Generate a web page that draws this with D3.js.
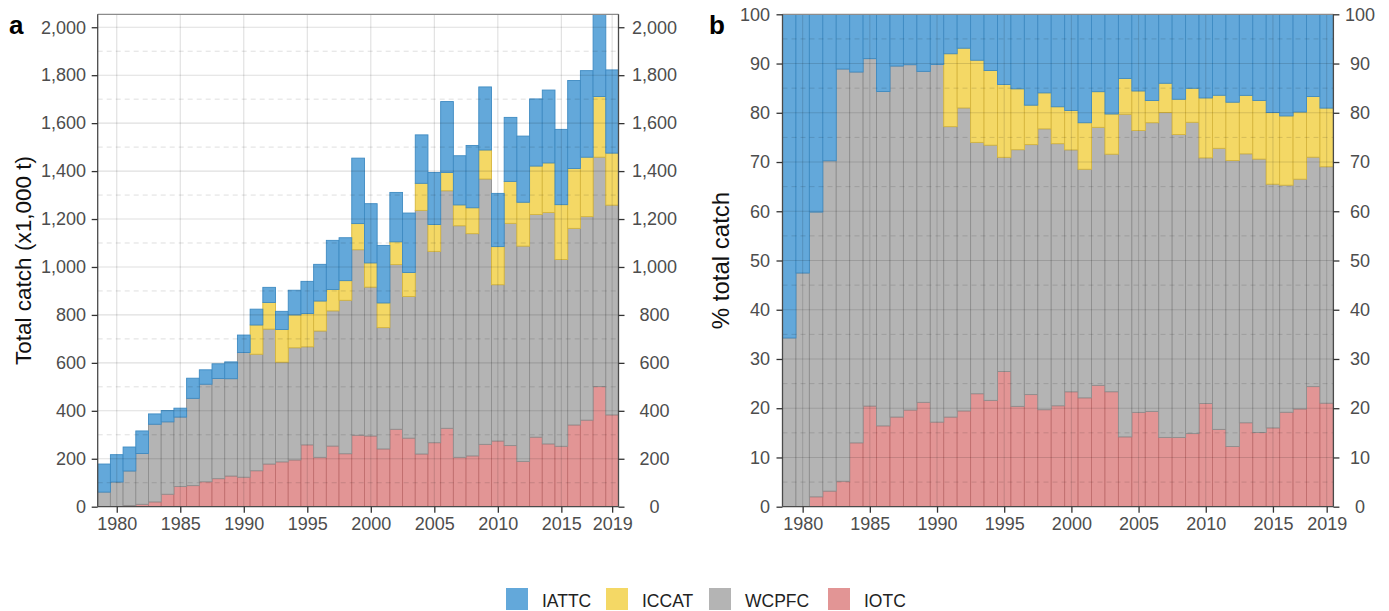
<!DOCTYPE html>
<html>
<head>
<meta charset="utf-8">
<script src="https://cdn.jsdelivr.net/npm/d3@7"></script>
<style>
  html, body { margin: 0; padding: 0; background: #fff; }
  svg { display: block; font-family: "Liberation Sans", Arial, Helvetica, sans-serif; }
</style>
</head>
<body>
<svg id="chart" width="1389" height="611"></svg>
<script>
// ---------- data ----------
const years = [1979,1980,1981,1982,1983,1984,1985,1986,1987,1988,1989,1990,
  1991,1992,1993,1994,1995,1996,1997,1998,1999,2000,
  2001,2002,2003,2004,2005,2006,2007,2008,2009,2010,
  2011,2012,2013,2014,2015,2016,2017,2018,2019];

// catch by RFMO, x1,000 t
const iotc  = [0,0,5,10,20,52,84,88,104,117,128,123,
  150,178,187,195,258,206,253,221,298,295,
  241,323,286,220,267,327,206,212,260,274,
  255,189,290,262,252,341,361,501,383];
const wcpfc = [61,103,144,212,324,302,290,364,407,418,406,520,
  486,563,416,468,409,527,564,640,774,621,
  506,687,591,1016,798,991,966,927,1107,652,
  927,898,929,965,779,820,849,957,875];
const iccat = [0,0,0,0,0,0,0,0,0,0,0,0,
  122,111,136,137,139,125,89,82,109,101,
  103,95,100,113,112,76,87,108,121,159,
  175,183,202,207,229,250,248,253,217];
const iattc = [117,114,100,94,43,47,37,84,60,61,70,73,
  66,63,76,103,134,153,205,179,273,247,
  240,206,248,202,217,296,205,260,263,222,
  267,276,280,304,314,367,361,343,347];

const seriesKeys = ["IOTC", "WCPFC", "ICCAT", "IATTC"];
const legendKeys = ["IATTC", "ICCAT", "WCPFC", "IOTC"];
const xTickYears = [1980, 1985, 1990, 1995, 2000, 2005, 2010, 2015, 2019];
const yTicksA = [0,200,400,600,800,1000,1200,1400,1600,1800,2000];
const yMinorA = [100,300,500,700,900,1100,1300,1500,1700,1900];
const yTicksB = [0,10,20,30,40,50,60,70,80,90,100];
const yMinorB = [5,15,25,35,45,55,65,75,85,95];

const colors = { IATTC: "#63a8da", ICCAT: "#f4d865", WCPFC: "#b4b4b4", IOTC: "#e29595" };
const strokes = { IATTC: "#3f8bc2", ICCAT: "#d6b63e", WCPFC: "#8e8e8e", IOTC: "#c06e6e" };

const rows = years.map((y, i) => ({
  year: y, IOTC: iotc[i], WCPFC: wcpfc[i], ICCAT: iccat[i], IATTC: iattc[i]
}));

const svg = d3.select("#chart");
const textCol = "#4d4d4d";
const gridCol = "rgba(0,0,0,0.13)";

function drawPanel(opt) {
  const { left, right, top, bottom, stacked, yDomain, yTicks, yMinor, fmt,
          leftLabelX, rightLabelX, title, titleX, titleSize, letter, letterX } = opt;
  const x = d3.scaleLinear().domain([1978.5, 2019.5]).range([left, right]);
  const y = d3.scaleLinear().domain(yDomain).range([bottom, top]);

  const g = svg.append("g");
  const clipId = "clip" + letter;
  svg.append("clipPath").attr("id", clipId)
    .append("rect").attr("x", left).attr("y", top)
    .attr("width", right - left).attr("height", bottom - top);

  // bars
  const bars = g.append("g").attr("clip-path", `url(#${clipId})`);
  stacked.forEach(layer => {
    const key = layer.key;
    bars.selectAll(null).data(layer).join("rect")
      .attr("x", d => x(d.data.year - 0.5))
      .attr("width", d => x(d.data.year + 0.5) - x(d.data.year - 0.5))
      .attr("y", d => y(d[1]))
      .attr("height", d => Math.max(0, y(d[0]) - y(d[1])))
      .attr("fill", colors[key])
      .attr("stroke", strokes[key])
      .attr("stroke-width", 0.9)
      .attr("stroke-opacity", d => (d[1] - d[0]) > 0 ? 1 : 0);
  });

  // grid on top
  const grid = g.append("g").attr("clip-path", `url(#${clipId})`);
  grid.selectAll(null).data(yMinor).join("line")
    .attr("x1", left).attr("x2", right)
    .attr("y1", d => y(d)).attr("y2", d => y(d))
    .attr("stroke", gridCol).attr("stroke-width", 1)
    .attr("stroke-dasharray", "5,4");
  grid.selectAll(null).data(yTicks).join("line")
    .attr("x1", left).attr("x2", right)
    .attr("y1", d => y(d)).attr("y2", d => y(d))
    .attr("stroke", gridCol).attr("stroke-width", 1.1);
  grid.selectAll(null).data(xTickYears).join("line")
    .attr("y1", top).attr("y2", bottom)
    .attr("x1", d => x(d)).attr("x2", d => x(d))
    .attr("stroke", gridCol).attr("stroke-width", 1.1);

  // top border
  g.append("line").attr("x1", left).attr("x2", right).attr("y1", top).attr("y2", top)
    .attr("stroke", "#8c8c8c").attr("stroke-width", 1.2);

  // axes
  const axL = d3.axisLeft(y).tickValues(yTicks).tickFormat(fmt).tickSize(6).tickPadding(6);
  const axR = d3.axisRight(y).tickValues(yTicks).tickFormat(fmt).tickSize(6).tickPadding(6);
  const axB = d3.axisBottom(x).tickValues(xTickYears).tickFormat(d3.format("d")).tickSize(6).tickPadding(5);

  const gl = g.append("g").attr("transform", `translate(${left},0)`).call(axL);
  const gr = g.append("g").attr("transform", `translate(${right},0)`).call(axR);
  const gb = g.append("g").attr("transform", `translate(0,${bottom})`).call(axB);
  [gl, gr, gb].forEach(a => {
    a.select(".domain").attr("stroke", "#4a4a4a").attr("stroke-width", 1.3);
    a.selectAll(".tick line").attr("stroke", "#333").attr("stroke-width", 1.3);
    a.selectAll(".tick text").attr("fill", textCol).attr("font-size", 18)
      .attr("font-family", "'Liberation Sans', Arial, sans-serif");
  });
  gl.select(".domain").attr("d", `M0,${top}V${bottom}`);
  gr.select(".domain").attr("d", `M0,${top}V${bottom}`);
  gb.select(".domain").attr("d", `M${left},0H${right}`);
  gl.selectAll(".tick text").attr("x", null).attr("text-anchor", "end")
    .attr("transform", null).attr("x", leftLabelX - left);
  gr.selectAll(".tick text").attr("text-anchor", "middle").attr("x", rightLabelX - right);

  // axis title
  svg.append("text")
    .attr("transform", `translate(${titleX},${(top + bottom) / 2}) rotate(-90)`)
    .attr("text-anchor", "middle").attr("dominant-baseline", "central")
    .attr("font-size", titleSize).attr("fill", "#111").text(title);

  // panel letter
  svg.append("text").attr("x", letterX).attr("y", 34)
    .attr("font-size", 26).attr("font-weight", "bold").attr("fill", "#000").text(letter);
}

// Panel a: absolute stacked
const stackA = d3.stack().keys(seriesKeys)(rows);
const maxA = d3.max(rows, r => r.IOTC + r.WCPFC + r.ICCAT + r.IATTC);
drawPanel({
  left: 97.7, right: 618.5, top: 14.3, bottom: 506.7,
  stacked: stackA, yDomain: [0, maxA], yTicks: yTicksA, yMinor: yMinorA,
  fmt: d3.format(","), leftLabelX: 86, rightLabelX: 654.5,
  title: "Total catch (x1,000 t)", titleX: 23, titleSize: 22.5,
  letter: "a", letterX: 9
});

// Panel b: percentage stacked
const stackB = d3.stack().keys(seriesKeys).offset(d3.stackOffsetExpand)(rows);
stackB.forEach(layer => layer.forEach(d => { d[0] *= 100; d[1] *= 100; }));
drawPanel({
  left: 782.5, right: 1333.4, top: 14.3, bottom: 506.7,
  stacked: stackB, yDomain: [0, 100], yTicks: yTicksB, yMinor: yMinorB,
  fmt: d3.format("d"), leftLabelX: 770, rightLabelX: 1360,
  title: "% total catch", titleX: 720, titleSize: 24,
  letter: "b", letterX: 709
});

// legend
const legX = [506, 606, 709, 828];
const lg = svg.append("g");
legendKeys.forEach((k, i) => {
  lg.append("rect").attr("x", legX[i]).attr("y", 588).attr("width", 22).attr("height", 22)
    .attr("fill", colors[k]);
  lg.append("text").attr("x", legX[i] + 36).attr("y", 606.5)
    .attr("font-size", 17.5).attr("fill", "#222").text(k);
});
</script>
</body>
</html>
